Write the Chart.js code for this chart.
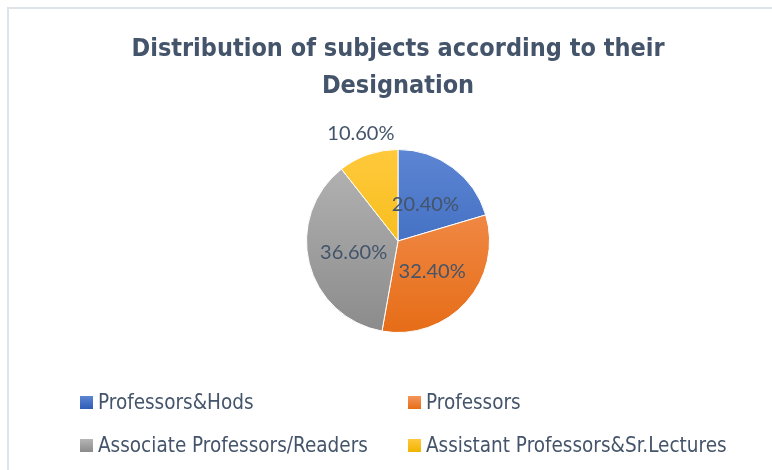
<!DOCTYPE html>
<html>
<head>
<meta charset="utf-8">
<script src="https://cdn.jsdelivr.net/npm/chart.js@4.4.1/dist/chart.umd.min.js"></script>
<style>
    html, body { margin: 0; padding: 0; background: #fff; }
    #wrap { position: relative; width: 772px; height: 470px; overflow: hidden; }
    #frame { position: absolute; left: 7px; top: 7px; width: 800px; height: 500px; border: 2px solid #dfe4eb; }
    #pie { position: absolute; left: 0; top: 0; }
    .legend-item { position: absolute; display: flex; align-items: center; font-family: "DejaVu Sans Condensed", sans-serif; font-size: 20.5px; color: #44546a; white-space: nowrap; }
    .legend-item span.box { width: 13px; height: 13px; margin-right: 5px; }
</style>
</head>
<body>
<div id="wrap">
    <div id="frame"></div>
    <canvas id="pie" width="772" height="470"></canvas>
</div>
<script>
const titleLines = ["Distribution of subjects according to their", "Designation"];
const categories = ["Professors&Hods", "Professors", "Associate Professors/Readers", "Assistant Professors&Sr.Lectures"];
const shares = [20.4, 32.4, 36.6, 10.6];
const topColors = ["#5d86d3", "#f5965c", "#b5b5b5", "#ffc93c"];
const bottomColors = ["#2d5db6", "#e66d17", "#8b8b8b", "#f0b400"];
const legendPos = [[80, 390], [408, 390], [80, 433], [408, 433]];

function sliceFill(ctx) {
    const chart = ctx.chart;
    const area = chart.chartArea;
    if (!area) return topColors[ctx.dataIndex];
    const g = chart.ctx.createLinearGradient(0, area.top, 0, area.bottom);
    g.addColorStop(0, topColors[ctx.dataIndex]);
    g.addColorStop(1, bottomColors[ctx.dataIndex]);
    return g;
}

const pctLabels = {
    id: "pctLabels",
    afterDatasetsDraw(chart) {
        const ctx = chart.ctx;
        const arcs = chart.getDatasetMeta(0).data;
        ctx.save();
        ctx.font = "20px Lato, sans-serif";
        ctx.fillStyle = "#44546a";
        ctx.textAlign = "center";
        ctx.textBaseline = "middle";
        arcs.forEach((arc, i) => {
            const mid = (arc.startAngle + arc.endAngle) / 2;
            const small = shares[i] < 15;
            const r = small ? arc.outerRadius + 22 : arc.outerRadius * 0.5;
            const x = arc.x + Math.cos(mid) * r;
            const y = arc.y + Math.sin(mid) * r;
            ctx.fillText(shares[i].toFixed(2) + "%", x, y);
        });
        ctx.restore();
    }
};

new Chart(document.getElementById("pie"), {
    type: "pie",
    data: {
        labels: categories,
        datasets: [{
            data: shares,
            backgroundColor: sliceFill,
            borderColor: "#ffffff",
            borderWidth: 1
        }]
    },
    options: {
        responsive: false,
        animation: false,
        layout: { padding: { left: 24, right: 0, top: 0, bottom: 137 } },
        plugins: {
            legend: { display: false },
            tooltip: { enabled: false },
            title: {
                display: true,
                text: titleLines,
                color: "#44546a",
                font: { family: "'DejaVu Sans Condensed', sans-serif", size: 25, weight: "bold", lineHeight: 1.48 },
                padding: { top: 31, bottom: 44 }
            }
        }
    },
    plugins: [pctLabels]
});

const wrap = document.getElementById("wrap");
categories.forEach((name, i) => {
    const item = document.createElement("div");
    item.className = "legend-item";
    item.style.left = legendPos[i][0] + "px";
    item.style.top = legendPos[i][1] + "px";
    const box = document.createElement("span");
    box.className = "box";
    box.style.background = "linear-gradient(" + topColors[i] + ", " + bottomColors[i] + ")";
    item.appendChild(box);
    item.appendChild(document.createTextNode(name));
    wrap.appendChild(item);
});
</script>
</body>
</html>
